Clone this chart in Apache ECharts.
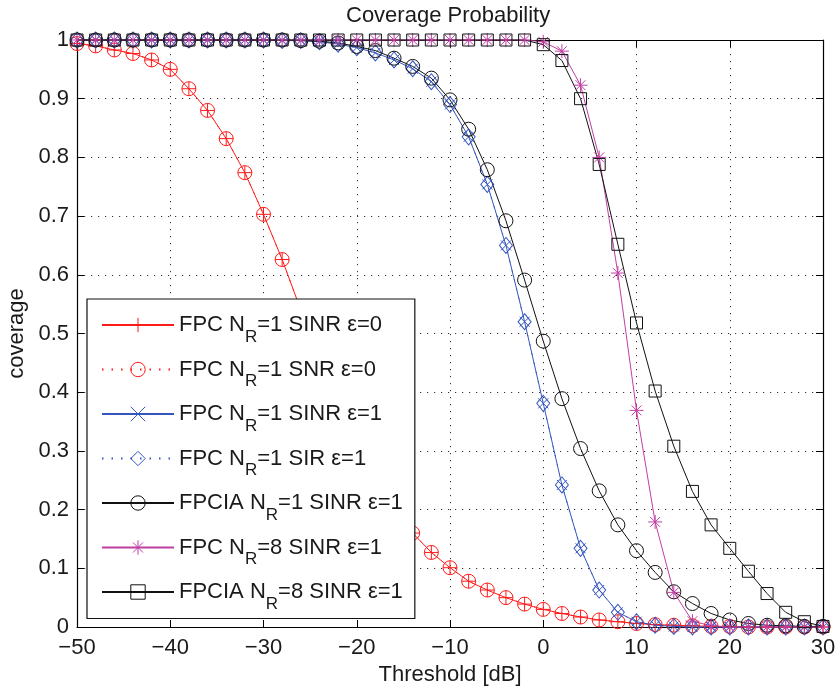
<!DOCTYPE html>
<html><head><meta charset="utf-8">
<script src="https://cdn.jsdelivr.net/npm/echarts@6/dist/echarts.min.js"></script>
<style>html,body{margin:0;padding:0;background:#fff}#c{width:838px;height:692px}</style>
</head><body><div id="c"></div>
<script>
// Threshold [dB]
const thresholds = [-50,-48,-46,-44,-42,-40,-38,-36,-34,-32,-30,-28,-26,-24,-22,-20,-18,-16,-14,-12,-10,-8,-6,-4,-2,0,2,4,6,8,10,12,14,16,18,20,22,24,26,28,30];
const xTicks = [-50,-40,-30,-20,-10,0,10,20,30];
const yTicks = [0,0.1,0.2,0.3,0.4,0.5,0.6,0.7,0.8,0.9,1];

// FPC N_R=1 eps=0 (SINR and SNR curves coincide)
const fpc1Sinr0 = [0.994,0.990,0.983,0.977,0.966,0.950,0.917,0.880,0.832,0.774,0.703,0.626,0.540,0.455,0.375,0.305,0.245,0.198,0.160,0.127,0.101,0.078,0.063,0.050,0.039,0.030,0.023,0.017,0.012,0.009,0.006,0.004,0.003,0.002,0.001,0.001,0,0,0,0,0];
const fpc1Snr0  = [0.994,0.990,0.983,0.977,0.966,0.950,0.917,0.880,0.832,0.774,0.703,0.626,0.540,0.455,0.375,0.305,0.245,0.198,0.160,0.127,0.101,0.078,0.063,0.050,0.039,0.030,0.023,0.017,0.012,0.009,0.006,0.004,0.003,0.002,0.001,0.001,0,0,0,0,0];
// FPC N_R=1 eps=1 (SINR and SIR coincide)
const fpc1Sinr1 = [1,1,1,1,1,1,1,1,1,1,1,0.999,0.999,0.997,0.993,0.987,0.978,0.966,0.951,0.929,0.890,0.835,0.754,0.650,0.520,0.381,0.242,0.134,0.063,0.025,0.009,0.003,0.001,0,0,0,0,0,0,0,0];
const fpc1Sir1  = [1,1,1,1,1,1,1,1,1,1,1,0.999,0.999,0.997,0.993,0.987,0.978,0.966,0.951,0.929,0.890,0.835,0.754,0.650,0.520,0.381,0.242,0.134,0.063,0.025,0.009,0.003,0.001,0,0,0,0,0,0,0,0];
// FPCIA N_R=1 SINR eps=1
const fpcia1Sinr1 = [1,1,1,1,1,1,1,1,1,1,1,1,0.999,0.998,0.995,0.989,0.982,0.969,0.955,0.935,0.898,0.848,0.779,0.692,0.591,0.487,0.389,0.304,0.232,0.174,0.130,0.093,0.060,0.040,0.023,0.012,0.006,0.003,0.002,0.001,0.001];
// FPC N_R=8 SINR eps=1
const fpc8Sinr1 = [1,1,1,1,1,1,1,1,1,1,1,1,1,1,1,1,1,1,1,1,1,1,1,1,1,0.997,0.981,0.923,0.800,0.603,0.369,0.179,0.059,0.010,0.002,0,0,0,0,0,0];
// FPCIA N_R=8 SINR eps=1
const fpcia8Sinr1 = [1,1,1,1,1,1,1,1,1,1,1,1,1,1,1,1,1,1,1,1,1,1,1,1,1,0.992,0.965,0.900,0.788,0.652,0.518,0.402,0.308,0.231,0.174,0.134,0.095,0.057,0.025,0.009,0.001];

const seriesNames = ['FPC NR=1 SINR ε=0','FPC NR=1 SNR ε=0','FPC NR=1 SINR ε=1','FPC NR=1 SIR ε=1','FPCIA NR=1 SINR ε=1','FPC NR=8 SINR ε=1','FPCIA NR=8 SINR ε=1'];

const RED = '#ff1a1a', BLUE = '#3556c0', BLACK = '#111111', MAG = '#c03fa3';
const FONT = 'Liberation Sans, Arial, Helvetica, sans-serif';
const TXT = '#1a1a1a';
const PLUS = 'path://M0,-1L0,1M-1,0L1,0';
const CROSS = 'path://M-1,-1L1,1M-1,1L1,-1';
const STAR = 'path://M0,-1L0,1M-1,0L1,0M-0.7,-0.7L0.7,0.7M-0.7,0.7L0.7,-0.7';

function mk(name, vals, color, symbol, size, dotted) {
  return {
    name: name, type: 'line', xAxisIndex: 0, yAxisIndex: 0,
    data: thresholds.map((t, i) => [t, vals[i]]),
    symbol: symbol, symbolSize: size, clip: false, smooth: false,
    lineStyle: { color: color, width: 1, type: dotted ? [1.5, 8] : 'solid' },
    itemStyle: { color: 'rgba(0,0,0,0)', borderColor: color, borderWidth: 1 },
    emphasis: { disabled: true }
  };
}

const series = [
  mk(seriesNames[0], fpc1Sinr0, RED, PLUS, 14, false),
  mk(seriesNames[1], fpc1Snr0, RED, 'circle', 14, true),
  mk(seriesNames[2], fpc1Sinr1, BLUE, CROSS, 10, false),
  mk(seriesNames[3], fpc1Sir1, BLUE, 'diamond', [13, 16], true),
  mk(seriesNames[4], fpcia1Sinr1, BLACK, 'circle', 14, false),
  mk(seriesNames[5], fpc8Sinr1, MAG, STAR, 14, false),
  mk(seriesNames[6], fpcia8Sinr1, BLACK, 'rect', 12, false)
];

const fmtX = v => v < 0 ? '\u2212' + (-v) : String(v);
const fmtY = v => String(Math.round(v * 10) / 10);
const gridDots = { show: true, lineStyle: { color: '#333', width: 1, type: [1.2, 5.8] } };
const axisLine = { show: true, onZero: false, lineStyle: { color: '#000', width: 1.2 } };
const tick = { show: true, inside: true, length: 7, lineStyle: { color: '#000', width: 1 } };

const chart = echarts.init(document.getElementById('c'), null, { renderer: 'canvas' });
chart.setOption({
  animation: false,
  backgroundColor: '#fff',
  title: {
    text: 'Coverage Probability', left: 346, top: 5, padding: 0,
    textStyle: { fontSize: 22, fontWeight: 'normal', color: TXT, fontFamily: FONT }
  },
  grid: { left: 77, right: 15, top: 40, bottom: 65, containLabel: false, outerBoundsMode: 'none' },
  xAxis: [
    {
      type: 'value', min: xTicks[0], max: xTicks[xTicks.length - 1], interval: 10, position: 'bottom',
      name: 'Threshold [dB]', nameLocation: 'middle', nameGap: 37,
      nameTextStyle: { fontSize: 22, color: TXT, fontFamily: FONT },
      axisLine: axisLine, axisTick: tick, splitLine: gridDots,
      axisLabel: { fontSize: 22, color: TXT, fontFamily: FONT, margin: 10, formatter: fmtX }
    },
    {
      type: 'value', min: xTicks[0], max: xTicks[xTicks.length - 1], interval: 10, position: 'top',
      axisLine: axisLine, axisTick: tick, splitLine: { show: false }, axisLabel: { show: false }
    }
  ],
  yAxis: [
    {
      type: 'value', min: yTicks[0], max: yTicks[yTicks.length - 1], interval: 0.1, position: 'left',
      name: 'coverage', nameLocation: 'middle', nameGap: 48,
      nameTextStyle: { fontSize: 22, color: TXT, fontFamily: FONT },
      axisLine: axisLine, axisTick: tick, splitLine: gridDots,
      axisLabel: { fontSize: 22, color: TXT, fontFamily: FONT, margin: 8, formatter: fmtY }
    },
    {
      type: 'value', min: yTicks[0], max: yTicks[yTicks.length - 1], interval: 0.1, position: 'right',
      axisLine: axisLine, axisTick: tick, splitLine: { show: false }, axisLabel: { show: false }
    }
  ],
  legend: {
    data: seriesNames, orient: 'vertical', left: 87, top: 299,
    padding: [13, 12, 6, 14], itemGap: 11, itemWidth: 72, itemHeight: 18,
    backgroundColor: '#fff', borderColor: '#111', borderWidth: 1.2,
    selectedMode: false,
    itemStyle: { borderWidth: 1 },
    formatter: n => n.replace('NR', 'N{r|R}'),
    textStyle: {
      fontSize: 22, color: TXT, fontFamily: FONT, lineHeight: 26,
      rich: { r: { fontSize: 17, color: TXT, fontFamily: FONT, padding: [24, 0, 0, 0] } }
    }
  },
  series: series
});
</script></body></html>
